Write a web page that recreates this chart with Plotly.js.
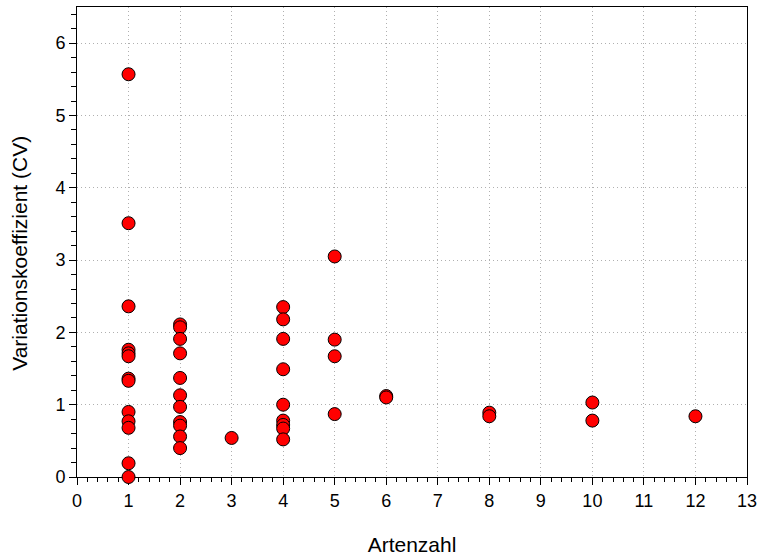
<!DOCTYPE html>
<html>
<head>
<meta charset="utf-8">
<script src="https://cdn.plot.ly/plotly-3.0.1.min.js"></script>
<style>
html,body{margin:0;padding:0;background:#fff;}
#chart{width:758px;height:559px;}
</style>
</head>
<body>
<div id="chart"></div>
<script>
// Artenzahl (species count) per observation
const artenzahl = [
  1,1,1,1,1,1,1,1,1,1,1,1,1,
  2,2,2,2,2,2,2,2,2,2,2,
  3,
  4,4,4,4,4,4,4,4,4,
  5,5,5,5,
  6,6,
  8,8,
  10,10,
  12
];
// Variationskoeffizient (CV)
const cv = [
  5.57,3.51,2.36,1.76,1.71,1.67,1.36,1.33,0.90,0.77,0.68,0.19,0.00,
  2.11,2.07,1.91,1.71,1.37,1.13,0.97,0.76,0.71,0.56,0.40,
  0.54,
  2.35,2.18,1.91,1.49,1.00,0.78,0.72,0.67,0.52,
  3.05,1.90,1.67,0.87,
  1.12,1.10,
  0.89,0.84,
  1.03,0.78,
  0.84
];
const xTickVals = [0,1,2,3,4,5,6,7,8,9,10,11,12,13];
const yTickVals = [0,1,2,3,4,5,6];

const trace = {
  x: artenzahl,
  y: cv,
  type: 'scatter',
  mode: 'markers',
  cliponaxis: false,
  marker: {
    symbol: 'circle',
    size: 13,
    color: '#ff0000',
    line: {color: '#000000', width: 1}
  },
  hoverinfo: 'x+y'
};

const fontFam = '"Liberation Sans", Arial, sans-serif';
const gridDash = '1px,3px';
const layout = {
  width: 758,
  height: 559,
  margin: {l: 77, r: 11, t: 7, b: 82},
  paper_bgcolor: '#ffffff',
  plot_bgcolor: '#ffffff',
  showlegend: false,
  font: {family: fontFam, color: '#000000', size: 18},
  xaxis: {
    range: [0, 13],
    tickmode: 'array',
    tickvals: xTickVals,
    ticktext: xTickVals.map(String),
    ticks: 'outside',
    ticklen: 7,
    tickwidth: 1,
    tickcolor: '#000',
    showline: true,
    linecolor: '#000',
    linewidth: 1,
    mirror: true,
    zeroline: false,
    showgrid: true,
    gridcolor: '#b0b0b0',
    griddash: gridDash,
    gridwidth: 1,
    layer: 'below traces',
    tickfont: {size: 18, family: fontFam},
    minor: {dtick: 0.2, ticks: 'outside', ticklen: 4, tickcolor: '#000', showgrid: false},
    title: {text: 'Artenzahl', font: {size: 21, family: fontFam}, standoff: 27}
  },
  yaxis: {
    range: [0, 6.5],
    tickmode: 'array',
    tickvals: yTickVals,
    ticktext: yTickVals.map(String),
    ticks: 'outside',
    ticklen: 7,
    tickwidth: 1,
    tickcolor: '#000',
    showline: true,
    linecolor: '#000',
    linewidth: 1,
    mirror: true,
    zeroline: false,
    showgrid: true,
    gridcolor: '#b0b0b0',
    griddash: gridDash,
    gridwidth: 1,
    layer: 'below traces',
    tickfont: {size: 18, family: fontFam},
    minor: {dtick: 0.2, ticks: 'outside', ticklen: 5, tickcolor: '#000', showgrid: false}
  },
  annotations: [{
    text: 'Variationskoeffizient (CV)',
    xref: 'paper', yref: 'paper',
    x: -0.085, y: 0.475,
    xanchor: 'center', yanchor: 'middle',
    textangle: -90,
    showarrow: false,
    font: {size: 21, family: fontFam, color: '#000'}
  }]
};

Plotly.newPlot('chart', [trace], layout, {displayModeBar: false, staticPlot: true});
</script>
</body>
</html>
